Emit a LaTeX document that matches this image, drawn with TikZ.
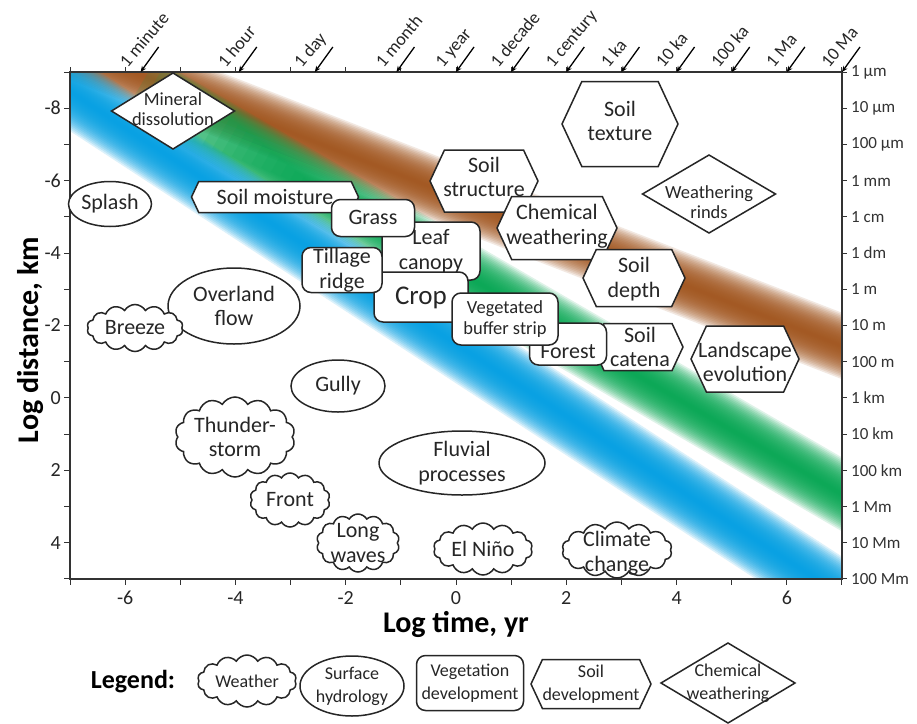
\documentclass[tikz,border=0pt]{standalone}
\usepackage{fontspec}
\setmainfont{Carlito}
\usetikzlibrary{shapes.geometric,shapes.symbols,arrows.meta,calc}
\definecolor{bluec}{RGB}{0,160,227}
\definecolor{greenc}{RGB}{0,166,80}
\definecolor{brownc}{RGB}{160,82,25}
\begin{document}
\begin{tikzpicture}[x=1pt,y=-1pt,
  lbl/.style={font=\fontsize{22}{24.5}\selectfont, align=center, text=black!85, inner sep=0pt},
  slbl/.style={font=\fontsize{18.5}{20.5}\selectfont, align=center, text=black!85, inner sep=0pt},
  leglbl/.style={font=\fontsize{18}{23}\selectfont, align=center, text=black!85, inner sep=0pt},
  shp/.style={draw=black!85, line width=1.5pt, fill=white, inner sep=0pt, outer sep=0pt},
  ell/.style={shp, ellipse},
  rrect/.style={shp, rectangle, rounded corners=9pt},
  hexa/.style={shp, signal, signal to=east and west, signal pointer angle=130},
  dia/.style={shp, diamond},
  cld/.style={shp, cloud, cloud puffs=14, cloud puff arc=120, cloud ignores aspect},
  axisline/.style={draw=black!80, line width=1.3pt},
  tick/.style={draw=black!80, line width=1pt},
  tarrow/.style={draw=black, line width=1.3pt, -{Stealth[length=6pt,width=5pt]}},
  toplbl/.style={font=\fontsize{18}{18}\selectfont, rotate=50, anchor=base west, inner sep=0pt, text=black!85},
  ticklbl/.style={font=\fontsize{20}{20}\selectfont, text=black!85, inner sep=0pt},
  rlbl/.style={font=\fontsize{17}{17}\selectfont, text=black!80, anchor=west, inner sep=0pt},
  title/.style={font=\fontsize{30}{30}\selectfont\bfseries, text=black, inner sep=0pt}
]
\useasboundingbox (0,0) rectangle (917,723);
\fill[white] (0,0) rectangle (917,723);

% gradient bands (stacked translucent strokes)
\coordinate (bl1) at (0,46);  \coordinate (bl2) at (917,645);
\coordinate (gr2) at (917,538);
\coordinate (br1) at (0,20);  \coordinate (br2) at (917,375);
\begin{scope}
\clip (70,72) rectangle (842,579);
\foreach \i in {0,...,19} \draw[line width=62*(1-\i/20), brownc, opacity=0.13] (br1) -- (br2);
\foreach \i in {0,...,19} {
  \pgfmathsetmacro\xs{140+9*\i}
  \coordinate (gs\i) at (\xs,{5+0.581*\xs});
  \draw[line width=64*(1-\i/20), greenc, opacity=0.13] (gs\i) -- (gr2);
}
\foreach \i in {0,...,19} \draw[line width=66*(1-\i/20), bluec, opacity=0.14] (bl1) -- (bl2);
\end{scope}

% frame
\coordinate (c1) at (70,72); \coordinate (c2) at (842,72);
\coordinate (c3) at (842,579); \coordinate (c4) at (70,579);
\draw[axisline] (c1) -- (c2) -- (c3) -- (c4) -- cycle;

% ticks
\foreach \i in {-7,...,7} {
  \draw[tick] ({456+55.14*\i},579) -- ++(0,6);
  \draw[tick] ({456+55.14*\i},72) -- ++(0,-5);
}
\foreach \j in {-9,...,5} {
  \draw[tick] (70,{397.9+36.21*\j}) -- ++(-6,0);
  \draw[tick] (842,{397.9+36.21*\j}) -- ++(5,0);
}
\foreach \i in {-6,-4,...,6}
  \node[ticklbl] (xl\i) at ({456+55.14*\i},598) {\i};
\foreach \j in {-8,-6,...,4}
  \node[ticklbl, anchor=east] (yl\j) at (61,{397.9+36.21*\j}) {\j};
\foreach \lab [count=\k from 0] in {1 µm,10 µm,100 µm,1 mm,1 cm,1 dm,1 m,10 m,100 m,1 km,10 km,100 km,1 Mm,10 Mm,100 Mm}
  \node[rlbl] (rl\k) at (851,{72+36.21*\k}) {\lab};

\node[title] (xt) at (456,624) {Log time, yr};
\node[title, rotate=90] (yt) at (31,340) {Log distance, km};

% top time arrows
\foreach \t/\lab [count=\k] in {-5.72/1 minute,-3.94/1 hour,-2.56/1 day,-1.08/1 month,0/1 year,1/1 decade,2/1 century,3/1 ka,4/10 ka,5/100 ka,6/1 Ma,7/10 Ma} {
  \coordinate (tip\k) at ({456+55.14*\t},72);
  \coordinate (tail\k) at ($(tip\k)+(18,-25)$);
  \draw[tarrow] (tail\k) -- (tip\k);
  \node[toplbl] (tl\k) at ($(tip\k)+(-13,-3)$) {\lab};
}

% ---- shapes ----
\node[dia, minimum width=123pt, minimum height=76pt] (md) at (173,111) {};
\node[slbl] (md-t) at (173,109) {Mineral\\dissolution};

\node[ell, minimum width=83pt, minimum height=45pt] (sp) at (110,204) {};
\node[lbl] (sp-t) at (sp) {Splash};

\node[hexa, minimum width=167pt, minimum height=31pt] (sm) at (275,197) {};
\node[lbl] (sm-t) at (sm) {Soil moisture};

\node[rrect, minimum width=98pt, minimum height=58pt] (lc) at (431,251) {};
\node[lbl] (lc-t) at (431,251) {Leaf\\canopy};

\node[rrect, minimum width=83pt, minimum height=37pt] (gs) at (373,218) {};
\node[lbl] (gs-t) at (373,217) {Grass};

\node[rrect, minimum width=94pt, minimum height=50pt] (cr) at (421,297) {};
\node[lbl, font=\fontsize{27}{27}\selectfont] (cr-t) at (421,298) {Crop};

\node[rrect, minimum width=80pt, minimum height=45pt] (tr) at (342,270) {};
\node[lbl] (tr-t) at (342,270) {Tillage\\ridge};

\node[hexa, minimum width=90pt, minimum height=47pt] (sc) at (638,347) {};
\node[lbl] (sc-t) at (640,347) {Soil\\catena};

\node[rrect, minimum width=77pt, minimum height=42pt] (fo) at (568,344) {};
\node[lbl] (fo-t) at (568,352) {Forest};

\node[rrect, minimum width=106pt, minimum height=52pt] (vb) at (505,319) {};
\node[slbl] (vb-t) at (505,319) {Vegetated\\buffer strip};

\node[hexa, minimum width=108pt, minimum height=62pt] (ss) at (484,181) {};
\node[lbl] (ss-t) at (484,177) {Soil\\structure};

\node[hexa, minimum width=120pt, minimum height=63pt] (cw) at (557,228) {};
\node[lbl] (cw-t) at (557,226) {Chemical\\weathering};

\node[hexa, minimum width=102pt, minimum height=57pt] (sd) at (634,278) {};
\node[lbl] (sd-t) at (634,279) {Soil\\depth};

\node[hexa, minimum width=116pt, minimum height=85pt] (st) at (620,124) {};
\node[lbl] (st-t) at (620,121) {Soil\\texture};

\node[dia, minimum width=133pt, minimum height=78pt] (wr) at (709,194) {};
\node[slbl] (wr-t) at (709,202) {Weathering\\rinds};

\node[hexa, minimum width=108pt, minimum height=66pt] (le) at (745,359) {};
\node[lbl] (le-t) at (745,362) {Landscape\\evolution};

\node[ell, minimum width=132pt, minimum height=76pt] (of) at (234,306) {};
\node[lbl] (of-t) at (of) {Overland\\flow};

\node[cld, minimum width=96pt, minimum height=47pt] (bz) at (135,328) {};
\node[lbl] (bz-t) at (bz) {Breeze};

\node[ell, minimum width=94pt, minimum height=52pt] (gu) at (338,386) {};
\node[lbl] (gu-t) at (gu) {Gully};

\node[cld, minimum width=120pt, minimum height=80pt] (ts) at (235,437) {};
\node[lbl] (ts-t) at (235,437) {Thunder-\\storm};

\node[cld, minimum width=80pt, minimum height=54pt] (fr) at (290,500) {};
\node[lbl] (fr-t) at (fr) {Front};

\node[cld, minimum width=83pt, minimum height=58pt] (lw) at (358,543) {};
\node[lbl] (lw-t) at (lw) {Long\\waves};

\node[ell, minimum width=166pt, minimum height=64pt] (fp) at (462,463) {};
\node[lbl] (fp-t) at (fp) {Fluvial\\processes};

\node[cld, minimum width=99pt, minimum height=52pt] (en) at (483,549) {};
\node[lbl] (en-t) at (en) {El Niño};

\node[cld, minimum width=110pt, minimum height=56pt] (cc) at (617,550) {};
\node[lbl] (cc-t) at (617,553) {Climate\\change};

% ---- legend ----
\node[title, font=\fontsize{26}{26}\selectfont\bfseries] (lg) at (133,682) {Legend:};
\node[cld, minimum width=99pt, minimum height=52pt] (lw1) at (247,681) {};
\node[leglbl] (lw1-t) at (lw1) {Weather};
\node[ell, minimum width=104pt, minimum height=60pt] (lw2) at (352,686) {};
\node[leglbl] (lw2-t) at (lw2) {Surface\\hydrology};
\node[rrect, minimum width=107pt, minimum height=55pt] (lw3) at (470,683) {};
\node[leglbl] (lw3-t) at (lw3) {Vegetation\\development};
\node[hexa, minimum width=120pt, minimum height=49pt] (lw4) at (591,684) {};
\node[leglbl] (lw4-t) at (lw4) {Soil\\development};
\node[dia, minimum width=134pt, minimum height=80pt] (lw5) at (728,683) {};
\node[leglbl] (lw5-t) at (lw5) {Chemical\\weathering};
\end{tikzpicture}
\end{document}
